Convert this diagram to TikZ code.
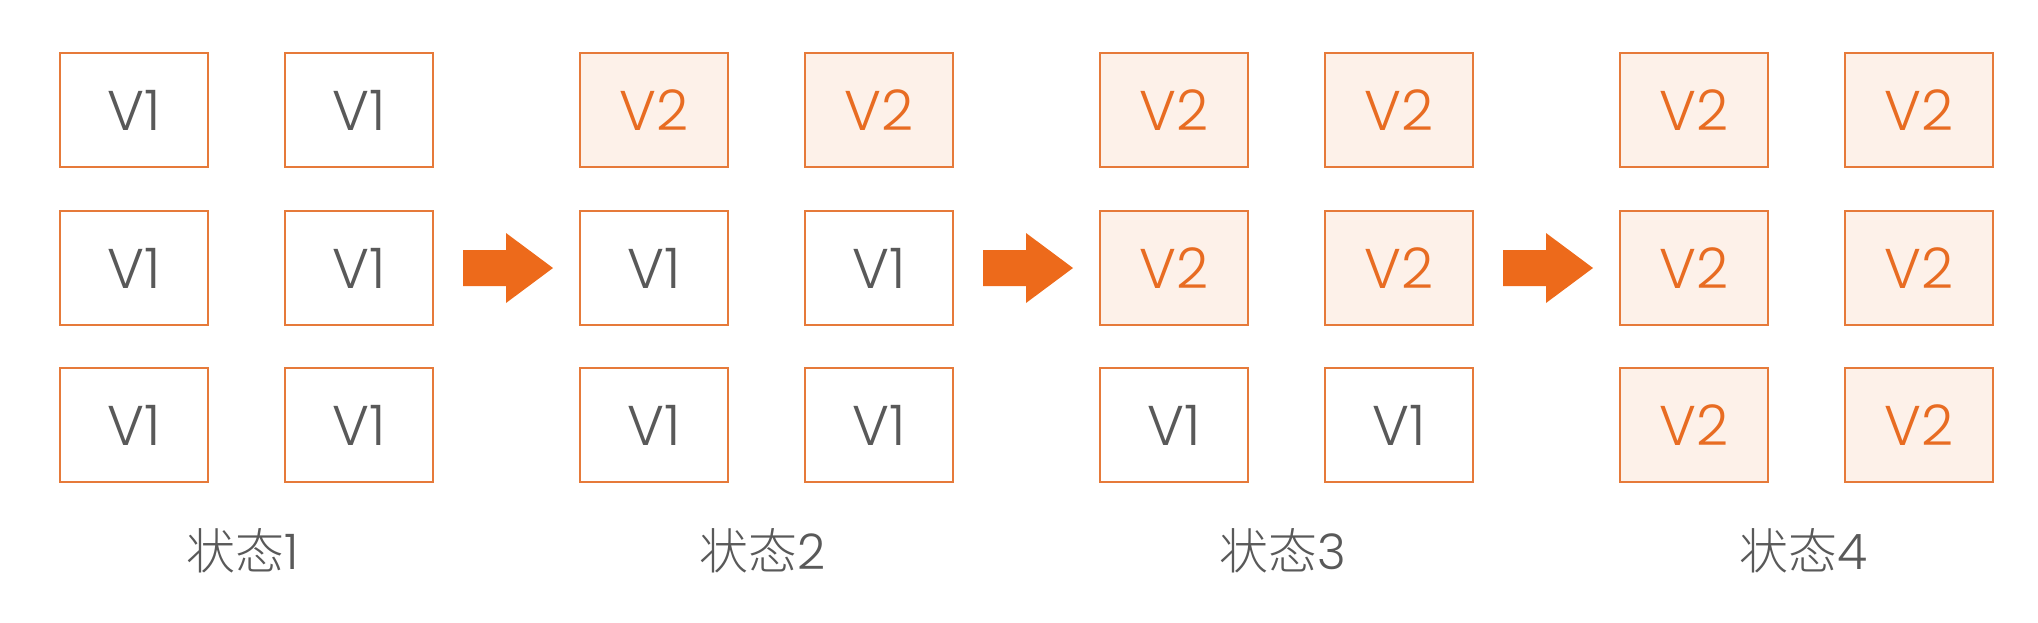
\documentclass[tikz,border=0pt]{standalone}
\usepackage{fontspec}
\setmainfont{Poppins Light}
\newfontfamily\cjk{Noto Sans CJK SC Light}
\definecolor{boxline}{RGB}{230,122,58}
\definecolor{boxfill}{RGB}{253,241,233}
\definecolor{arrowfill}{RGB}{237,106,27}
\definecolor{vtwo}{RGB}{232,108,34}
\definecolor{txtgray}{RGB}{89,89,89}
\tikzset{
  vbox/.style={draw=boxline, line width=1.8pt, minimum width=148pt, minimum height=114pt, inner sep=0pt, font=\fontsize{56}{56}\selectfont},
  vone/.style={vbox, fill=white, text=txtgray},
  vtwobox/.style={vbox, fill=boxfill, text=vtwo},
  statelabel/.style={text=txtgray, inner sep=0pt, font=\fontsize{49}{49}\selectfont},
  bigarrow/.style={fill=arrowfill, draw=none}
}
\begin{document}
\begin{tikzpicture}[x=1pt,y=-1pt]
\useasboundingbox (0,0) rectangle (2038,622);
% state 1
\foreach \r/\y in {1/110, 2/268, 3/425} {
  \node[vone] (s1a\r) at (134,\y) {V1};
  \node[vone] (s1b\r) at (359,\y) {V1};
}
% state 2
\node[vtwobox] (s2a1) at (654,110) {V2};
\node[vtwobox] (s2b1) at (879,110) {V2};
\foreach \r/\y in {2/268, 3/425} {
  \node[vone] (s2a\r) at (654,\y) {V1};
  \node[vone] (s2b\r) at (879,\y) {V1};
}
% state 3
\foreach \r/\y in {1/110, 2/268} {
  \node[vtwobox] (s3a\r) at (1174,\y) {V2};
  \node[vtwobox] (s3b\r) at (1399,\y) {V2};
}
\node[vone] (s3a3) at (1174,425) {V1};
\node[vone] (s3b3) at (1399,425) {V1};
% state 4
\foreach \r/\y in {1/110, 2/268, 3/425} {
  \node[vtwobox] (s4a\r) at (1694,\y) {V2};
  \node[vtwobox] (s4b\r) at (1919,\y) {V2};
}
% labels
\node[statelabel] (l1) at (243,551) {{\cjk 状态}1};
\node[statelabel] (l2) at (763,551) {{\cjk 状态}2};
\node[statelabel] (l3) at (1283,551) {{\cjk 状态}3};
\node[statelabel] (l4) at (1803,551) {{\cjk 状态}4};
% arrows
\foreach \dx in {0,520,1040} {
  \fill[bigarrow] (463+\dx,250) -- (506+\dx,250) -- (506+\dx,233) -- (553+\dx,268) -- (506+\dx,303) -- (506+\dx,286) -- (463+\dx,286) -- cycle;
}
\end{tikzpicture}
\end{document}
